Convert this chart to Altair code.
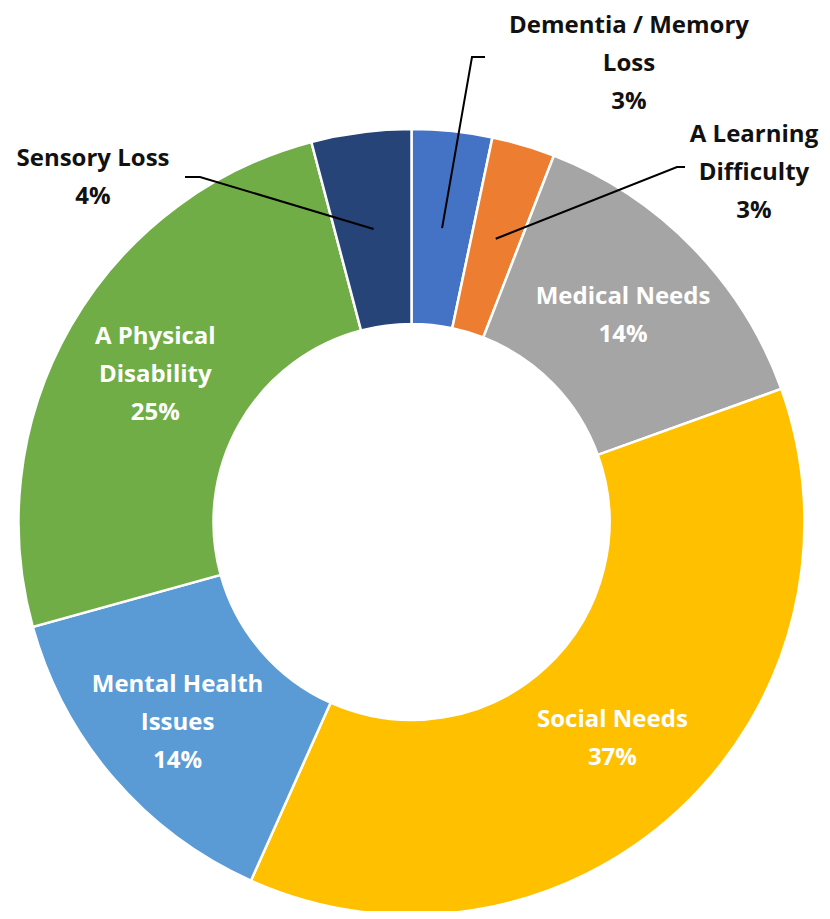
import altair as alt
import pandas as pd
import numpy as np

# ---- data ----
categories = ["Dementia / Memory Loss", "A Learning Difficulty", "Medical Needs",
              "Social Needs", "Mental Health Issues", "A Physical Disability", "Sensory Loss"]
values = [3.3, 2.6, 13.6, 37.2, 14.0, 25.2, 4.1]
label_text = ["Dementia / Memory\nLoss\n3%", "A Learning\nDifficulty\n3%", "Medical Needs\n14%",
              "Social Needs\n37%", "Mental Health\nIssues\n14%", "A Physical\nDisability\n25%",
              "Sensory Loss\n4%"]
colors = ["#4472C4", "#ED7D31", "#A5A5A5", "#FFC000", "#5B9BD5", "#70AD47", "#264478"]
inside = [False, False, True, True, True, True, False]

# ---- layout (pixels, chart coordinates) ----
W, H = 814, 903
CX, CY = 403.5, 514
R_OUT, R_IN = 393, 198
R_MID = (R_OUT + R_IN) / 2
FONT = "Open Sans"
FS = 24
LH = 38


def only(names):
    return [t if c in names else "" for c, t in zip(categories, label_text)]


df = pd.DataFrame({
    "category": categories,
    "value": values,
    "order": list(range(len(categories))),
    "lab2": only({"Medical Needs", "Social Needs"}),
    "lab3a": only({"A Physical Disability"}),
    "lab3b": only({"Mental Health Issues"}),
})

color_scale = alt.Scale(domain=categories, range=colors)

base = alt.Chart(df).encode(
    theta=alt.Theta("value:Q", stack=True, scale=alt.Scale(range=[0, 2 * np.pi])),
    order=alt.Order("order:Q"),
    x=alt.value(CX), y=alt.value(CY),
)

arcs = base.mark_arc(outerRadius=R_OUT, innerRadius=R_IN, stroke="white", strokeWidth=2.5).encode(
    color=alt.Color("category:N", scale=color_scale, legend=None),
)

txt_kw = dict(font=FONT, fontSize=FS, fontWeight="bold", color="white",
              lineBreak="\n", lineHeight=LH, align="center", baseline="middle")
inner2 = base.mark_text(radius=R_MID, dy=-LH / 2, **txt_kw).encode(text="lab2:N")
inner3a = base.mark_text(radius=R_MID, dy=-LH, **txt_kw).encode(text="lab3a:N")
inner3b = base.mark_text(radius=R_MID + 13, dy=-LH, **txt_kw).encode(text="lab3b:N")

# outside labels: anchor positions (layout) and leader-line start points from data angles
total = sum(values)
cum = np.cumsum([0] + values)
mid_frac = [(cum[i] + cum[i + 1]) / 2 / total for i in range(len(values))]

outer_pos = {  # label first-line centre, elbow, line end
    "Dementia / Memory Loss": ((621, 18), (464, 49), (477, 49)),
    "A Learning Difficulty": ((746, 127), (669, 159), (677, 159)),
    "Sensory Loss": ((85, 151), (192, 169), (177, 169)),
}

lab_rows, line_rows = [], []
for i, c in enumerate(categories):
    if c in outer_pos:
        (lx, ly), (ex, ey), (tx, ty) = outer_pos[c]
        lab_rows.append({"category": c, "label": label_text[i], "lx": lx, "ly": ly})
        a = mid_frac[i] * 2 * np.pi
        sx, sy = CX + R_MID * np.sin(a), CY - R_MID * np.cos(a)
        for k, (px, py) in enumerate([(sx, sy), (ex, ey), (tx, ty)]):
            line_rows.append({"category": c, "k": k, "px": px, "py": py})

lab_df = pd.DataFrame(lab_rows)
line_df = pd.DataFrame(line_rows)

outer_labels = alt.Chart(lab_df).mark_text(
    font=FONT, fontSize=FS, fontWeight="bold", color="#111111",
    lineBreak="\n", lineHeight=LH, align="center", baseline="middle",
).encode(
    x=alt.X("lx:Q", scale=None), y=alt.Y("ly:Q", scale=None), text="label:N",
)

leaders = alt.Chart(line_df).mark_line(color="black", strokeWidth=2).encode(
    x=alt.X("px:Q", scale=None), y=alt.Y("py:Q", scale=None),
    detail="category:N", order="k:Q",
)

chart = alt.layer(arcs, inner2, inner3a, inner3b, leaders, outer_labels).properties(
    width=W, height=H, padding=0, autosize=alt.AutoSizeParams(type="none"),
).configure_view(stroke=None)

chart.save("out.html", embed_options={"renderer": "svg", "actions": False})
